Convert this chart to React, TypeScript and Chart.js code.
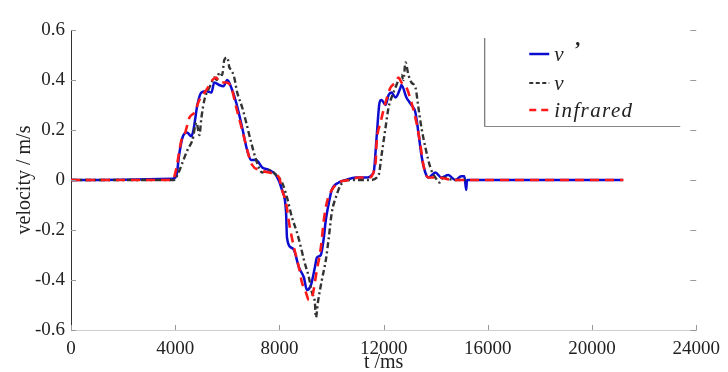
import React, { useEffect, useRef } from "react";
import { Chart, registerables } from "chart.js";

Chart.register(...registerables);

// v' (blue solid)
const vPrimeT = [0, 3900, 4050, 4150, 4280, 4450, 4620, 4700, 4850, 5005, 5200, 5390, 5500, 5690, 5850, 6000, 6150, 6340, 6570, 6760, 6915, 7105, 7340, 7600, 7870, 8100, 8255, 8290, 8445, 8560, 8750, 8940, 9055, 9210, 9360, 9440, 9590, 9705, 9780, 9900, 10010, 10280, 10545, 10930, 11310, 11615, 11730, 11845, 11920, 12075, 12190, 12305, 12455, 12650, 12685, 12875, 13070, 13220, 13335, 13450, 13600, 13720, 13985, 14215, 14480, 14750, 14980, 15100, 15170, 15200, 21170];
const vPrimeV = [0, 0.005, 0.02, 0.1, 0.17, 0.19, 0.175, 0.2, 0.3, 0.35, 0.355, 0.35, 0.39, 0.38, 0.375, 0.4, 0.37, 0.31, 0.21, 0.12, 0.08, 0.08, 0.05, 0.04, 0.02, -0.04, -0.13, -0.23, -0.27, -0.28, -0.35, -0.39, -0.44, -0.42, -0.35, -0.31, -0.3, -0.23, -0.16, -0.09, -0.04, -0.01, 0, 0.01, 0.01, 0.03, 0.17, 0.31, 0.32, 0.3, 0.34, 0.35, 0.33, 0.37, 0.38, 0.33, 0.3, 0.27, 0.19, 0.1, 0.03, 0.01, 0.03, 0.01, 0.02, 0.0, 0.015, 0.015, -0.04, 0, 0];

// v (dark dash-dot)
const vT = [0, 3950, 4088, 4280, 4471, 4662, 4814, 4929, 5006, 5120, 5311, 5400, 5502, 5600, 5693, 5800, 5884, 5999, 6080, 6152, 6266, 6381, 6572, 6725, 6916, 7107, 7336, 7600, 7871, 8101, 8292, 8483, 8674, 8827, 8941, 9132, 9247, 9361, 9400, 9476, 9629, 9782, 9896, 10011, 10164, 10355, 10660, 11100, 11500, 11807, 11922, 12074, 12189, 12304, 12456, 12571, 12686, 12760, 12839, 12953, 13068, 13221, 13335, 13450, 13603, 13794, 13985, 14150, 14290, 14673, 15150];
const vV = [0, 0, 0.02, 0.07, 0.12, 0.16, 0.23, 0.18, 0.25, 0.32, 0.37, 0.39, 0.41, 0.4, 0.43, 0.42, 0.48, 0.49, 0.45, 0.44, 0.41, 0.35, 0.29, 0.23, 0.15, 0.08, 0.03, 0.04, 0.02, -0.01, -0.07, -0.15, -0.21, -0.27, -0.32, -0.39, -0.45, -0.49, -0.55, -0.49, -0.4, -0.32, -0.23, -0.13, -0.07, -0.02, 0, 0, 0, 0.02, 0.1, 0.21, 0.29, 0.33, 0.37, 0.4, 0.42, 0.4, 0.47, 0.42, 0.39, 0.37, 0.29, 0.21, 0.13, 0.05, 0.01, -0.01, 0.01, 0.0, 0];

// infrared (red dashed)
const irT = [0, 3900, 4050, 4165, 4240, 4356, 4547, 4738, 4929, 5197, 5426, 5579, 5693, 5961, 6152, 6343, 6572, 6763, 6954, 7222, 7604, 7986, 8101, 8253, 8368, 8559, 8750, 8865, 9018, 9132, 9247, 9438, 9591, 9705, 9820, 10011, 10278, 10660, 11043, 11425, 11692, 11731, 11883, 12074, 12265, 12456, 12571, 12686, 12877, 13068, 13259, 13412, 13526, 13717, 14099, 14673, 15246, 21207];
const irV = [0, 0.0, 0.05, 0.12, 0.16, 0.18, 0.25, 0.27, 0.32, 0.36, 0.4, 0.41, 0.39, 0.39, 0.37, 0.29, 0.2, 0.12, 0.06, 0.04, 0.03, 0.01, -0.04, -0.09, -0.17, -0.27, -0.35, -0.41, -0.45, -0.48, -0.47, -0.36, -0.27, -0.16, -0.09, -0.04, -0.01, 0, 0.01, 0.01, 0.07, 0.15, 0.23, 0.31, 0.37, 0.39, 0.41, 0.39, 0.37, 0.31, 0.23, 0.14, 0.06, 0.01, 0.01, 0.0, 0.0, 0];

const xTicks = [0, 4000, 8000, 12000, 16000, 20000, 24000];
const yTicks = [-0.6, -0.4, -0.2, 0, 0.2, 0.4, 0.6];

const seriesNames = ["v", "v", "infrared"];
const seriesColors = ["#0c0cd0", "#333333", "#ff1a1a"];

const toPoints = (t: number[], v: number[]) => t.map((x, i) => ({ x, y: v[i] }));

const FONT = "'Liberation Serif', 'Times New Roman', serif";

const innerTicksPlugin = {
  id: "innerTicks",
  afterDatasetsDraw(chart: any) {
    const { ctx, chartArea, scales } = chart;
    ctx.save();
    ctx.strokeStyle = "#999";
    ctx.lineWidth = 1;
    ctx.beginPath();
    xTicks.forEach((t) => {
      const px = Math.round(scales.x.getPixelForValue(t)) + 0.5;
      ctx.moveTo(px, chartArea.bottom);
      ctx.lineTo(px, chartArea.bottom - 5);
    });
    yTicks.forEach((v) => {
      const py = Math.round(scales.y.getPixelForValue(v)) + 0.5;
      ctx.moveTo(chartArea.left, py);
      ctx.lineTo(chartArea.left + 5, py);
      ctx.moveTo(chartArea.right, py);
      ctx.lineTo(chartArea.right - 6, py);
    });
    ctx.stroke();
    ctx.restore();
  },
};

const legendPlugin = {
  id: "boxLegend",
  afterDraw(chart: any) {
    const { ctx, chartArea } = chart;
    const left = chartArea.right - 212;
    const right = chartArea.right - 16;
    const top = chartArea.top + 8;
    const bottom = chartArea.top + 96;
    ctx.save();
    ctx.lineWidth = 1;
    ctx.strokeStyle = "#555";
    ctx.beginPath();
    ctx.moveTo(left + 0.5, top);
    ctx.lineTo(left + 0.5, bottom + 0.5);
    ctx.stroke();
    ctx.strokeStyle = "#888";
    ctx.beginPath();
    ctx.moveTo(left, bottom + 0.5);
    ctx.lineTo(right, bottom + 0.5);
    ctx.stroke();

    const rows = [top + 16, top + 45, top + 72];
    const dashes = [[], [4, 2.5], [7, 5]];
    const widths = [2.5, 2.2, 2.5];
    const lx0 = left + 45;
    const lx1 = left + 65;
    seriesNames.forEach((name, i) => {
      ctx.strokeStyle = seriesColors[i];
      ctx.lineWidth = widths[i];
      ctx.setLineDash(dashes[i]);
      ctx.beginPath();
      ctx.moveTo(lx0, rows[i]);
      ctx.lineTo(lx1, rows[i]);
      ctx.stroke();
      ctx.setLineDash([]);
      ctx.fillStyle = "#222";
      ctx.font = `italic 21px ${FONT}`;
      (ctx as any).letterSpacing = i === 2 ? "1.4px" : "0px";
      ctx.textBaseline = "alphabetic";
      ctx.textAlign = "left";
      ctx.fillText(name, lx1 + 5, rows[i] + 7);
    });
    (ctx as any).letterSpacing = "0px";
    ctx.font = `bold 20px ${FONT}`;
    ctx.fillText("’", lx1 + 25, rows[0] + 2);
    ctx.restore();
  },
};

export default function App() {
  const ref = useRef<HTMLCanvasElement | null>(null);
  useEffect(() => {
    if (!ref.current) return;
    const chart = new Chart(ref.current, {
      type: "line",
      data: {
        datasets: [
          {
            label: "v ’",
            data: toPoints(vPrimeT, vPrimeV),
            borderColor: seriesColors[0],
            borderWidth: 2.5,
            pointRadius: 0,
            cubicInterpolationMode: "monotone",
            order: 2,
          },
          {
            label: "v",
            data: toPoints(vT, vV),
            borderColor: seriesColors[1],
            borderWidth: 2.4,
            borderDash: [6, 3, 2, 3],
            pointRadius: 0,
            cubicInterpolationMode: "monotone",
            order: 1,
          },
          {
            label: "infrared",
            data: toPoints(irT, irV),
            borderColor: seriesColors[2],
            borderWidth: 2.6,
            borderDash: [9, 6],
            pointRadius: 0,
            cubicInterpolationMode: "monotone",
            order: 0,
          },
        ],
      },
      options: {
        responsive: false,
        animation: false,
        layout: { padding: { left: 0, right: 29, top: 30, bottom: 0 } },
        plugins: { legend: { display: false }, tooltip: { enabled: false } },
        scales: {
          x: {
            type: "linear",
            min: 0,
            max: 24000,
            afterFit: (s: any) => {
              s.height = 42;
            },
            afterBuildTicks: (s: any) => {
              s.ticks = xTicks.map((value) => ({ value }));
            },
            ticks: {
              color: "#222",
              padding: 8,
              maxRotation: 0,
              font: { family: FONT, size: 19 },
              callback: (v: any) => String(v),
            },
            grid: { display: false, drawTicks: false },
            border: { display: true, color: "#cfcfcf", width: 1 },
            title: {
              display: true,
              text: "t /ms",
              color: "#222",
              font: { family: FONT, size: 20 },
              padding: { top: 0, bottom: -3 },
            },
          },
          y: {
            type: "linear",
            min: -0.6,
            max: 0.6,
            afterFit: (s: any) => {
              s.width = 71;
            },
            afterBuildTicks: (s: any) => {
              s.ticks = yTicks.map((value) => ({ value }));
            },
            ticks: {
              color: "#222",
              padding: 6,
              font: { family: FONT, size: 19 },
              callback: (v: any) => String(Number(Number(v).toFixed(1))),
            },
            grid: { display: false, drawTicks: false },
            border: { display: true, color: "#333", width: 1 },
            title: {
              display: true,
              text: "velocity / m/s",
              color: "#222",
              font: { family: FONT, size: 20 },
              padding: { top: 13, bottom: 0 },
            },
          },
        },
      },
      plugins: [innerTicksPlugin, legendPlugin],
    } as any);
    return () => chart.destroy();
  }, []);
  return (
    <div style={{ position: "absolute", left: 0, top: 0, width: 728, height: 372, background: "#fff" }}>
      <canvas ref={ref} width={728} height={372} style={{ display: "block" }} />
    </div>
  );
}
